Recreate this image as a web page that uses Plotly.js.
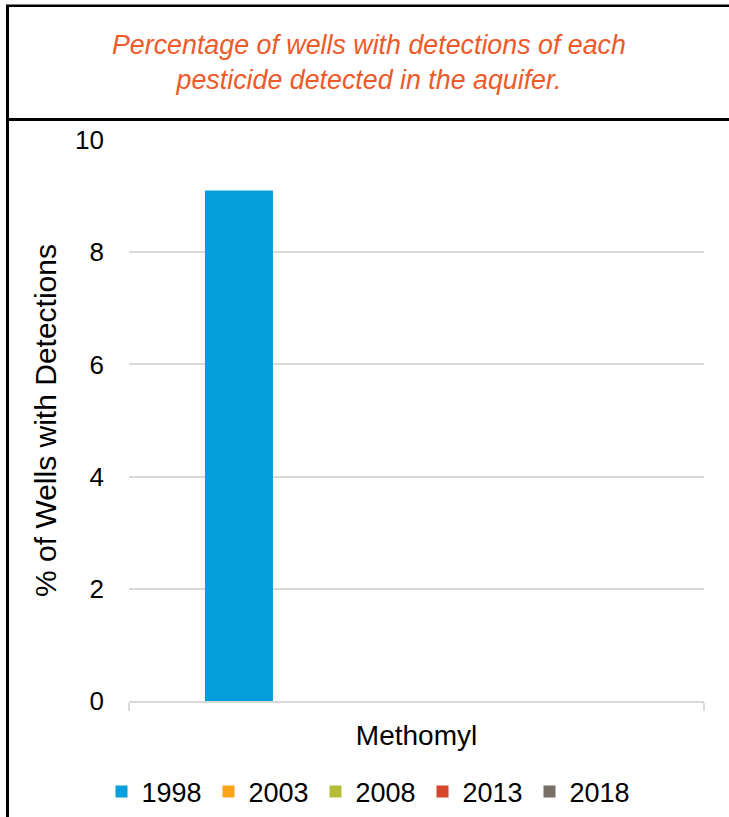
<!DOCTYPE html>
<html>
<head>
<meta charset="utf-8">
<script src="https://cdn.plot.ly/plotly-3.0.1.min.js"></script>
<style>
html,body{margin:0;padding:0;background:#fff;}
#chart{width:729px;height:817px;}
</style>
</head>
<body>
<div id="chart"></div>
<script>
var categories = ["Methomyl"];
var years = ["1998", "2003", "2008", "2013", "2018"];
var values1998 = [9.1];
var values2003 = [0];
var values2008 = [0];
var values2013 = [0];
var values2018 = [0];
var colors = ["#059FDB", "#FAA41A", "#B3BE34", "#D5472A", "#776E66"];
var yTickValues = [0, 2, 4, 6, 8, 10];
var titleText = "Percentage of wells with detections of each<br>pesticide detected in the aquifer.";
var yTitleText = "% of Wells with Detections";

var seriesValues = [values1998, values2003, values2008, values2013, values2018];
var FONT = "Liberation Sans, Arial, sans-serif";

var traces = years.map(function (yr, i) {
  return {
    type: "bar",
    name: yr,
    x: categories,
    y: seriesValues[i],
    marker: {color: colors[i], line: {width: 0}},
    hoverinfo: "none"
  };
});

// plot area pixels
var L = 129, R = 704, T = 140, B = 701;
var W = R - L, H = B - T;
function px(x) { return (x - L) / W; }
function py(y) { return (B - y) / H; }

var layout = {
  width: 729,
  height: 817,
  margin: {l: L, r: 729 - R, t: T, b: 817 - B, pad: 0, autoexpand: false},
  paper_bgcolor: "#fff",
  plot_bgcolor: "#fff",
  barmode: "group",
  bargap: 0.228,
  bargroupgap: 0.234,
  showlegend: true,
  font: {family: FONT, size: 26, color: "#000"},
  xaxis: {
    type: "category",
    range: [-0.5, 0.5],
    showline: true,
    linecolor: "#D9D9D9",
    linewidth: 2,
    ticks: "outside",
    tickson: "boundaries",
    ticklen: 8,
    tickwidth: 2,
    tickcolor: "#D9D9D9",
    ticklabelstandoff: 8,
    showgrid: false,
    zeroline: false,
    automargin: false,
    tickfont: {family: FONT, size: 28, color: "#000"},
    fixedrange: true
  },
  yaxis: {
    range: [0, 10],
    tickvals: yTickValues,
    ticktext: yTickValues.map(String),
    showgrid: true,
    gridcolor: "#D9D9D9",
    gridwidth: 2,
    zeroline: false,
    showline: false,
    ticks: "",
    automargin: false,
    ticklabelstandoff: 24,
    tickfont: {family: FONT, size: 26, color: "#000"},
    title: {text: yTitleText, font: {family: FONT, size: 30, color: "#000"}, standoff: 9},
    fixedrange: true
  },
  legend: {
    orientation: "h",
    x: px(369),
    xanchor: "center",
    y: py(792),
    yanchor: "middle",
    entrywidth: 62,
    entrywidthmode: "pixels",
    font: {family: FONT, size: 27, color: "#000"},
    traceorder: "normal",
    itemclick: false,
    itemdoubleclick: false
  },
  annotations: [{
    xref: "paper", yref: "paper",
    x: px(369), y: py(62),
    xanchor: "center", yanchor: "middle",
    text: titleText,
    showarrow: false,
    align: "center",
    font: {family: FONT, size: 26.8, color: "#EE5A2A", style: "italic"}
  }],
  shapes: [
    {type: "line", xref: "paper", yref: "paper", x0: px(7.5), x1: px(7.5), y0: py(5), y1: py(830), line: {color: "#000", width: 3}},
    {type: "line", xref: "paper", yref: "paper", x0: px(6), x1: px(740), y0: py(5.7), y1: py(5.7), line: {color: "#000", width: 2.5}},
    {type: "line", xref: "paper", yref: "paper", x0: px(6), x1: px(740), y0: py(119.5), y1: py(119.5), line: {color: "#000", width: 3}}
  ]
};

Plotly.newPlot("chart", traces, layout, {displayModeBar: false, staticPlot: true});
</script>
</body>
</html>
